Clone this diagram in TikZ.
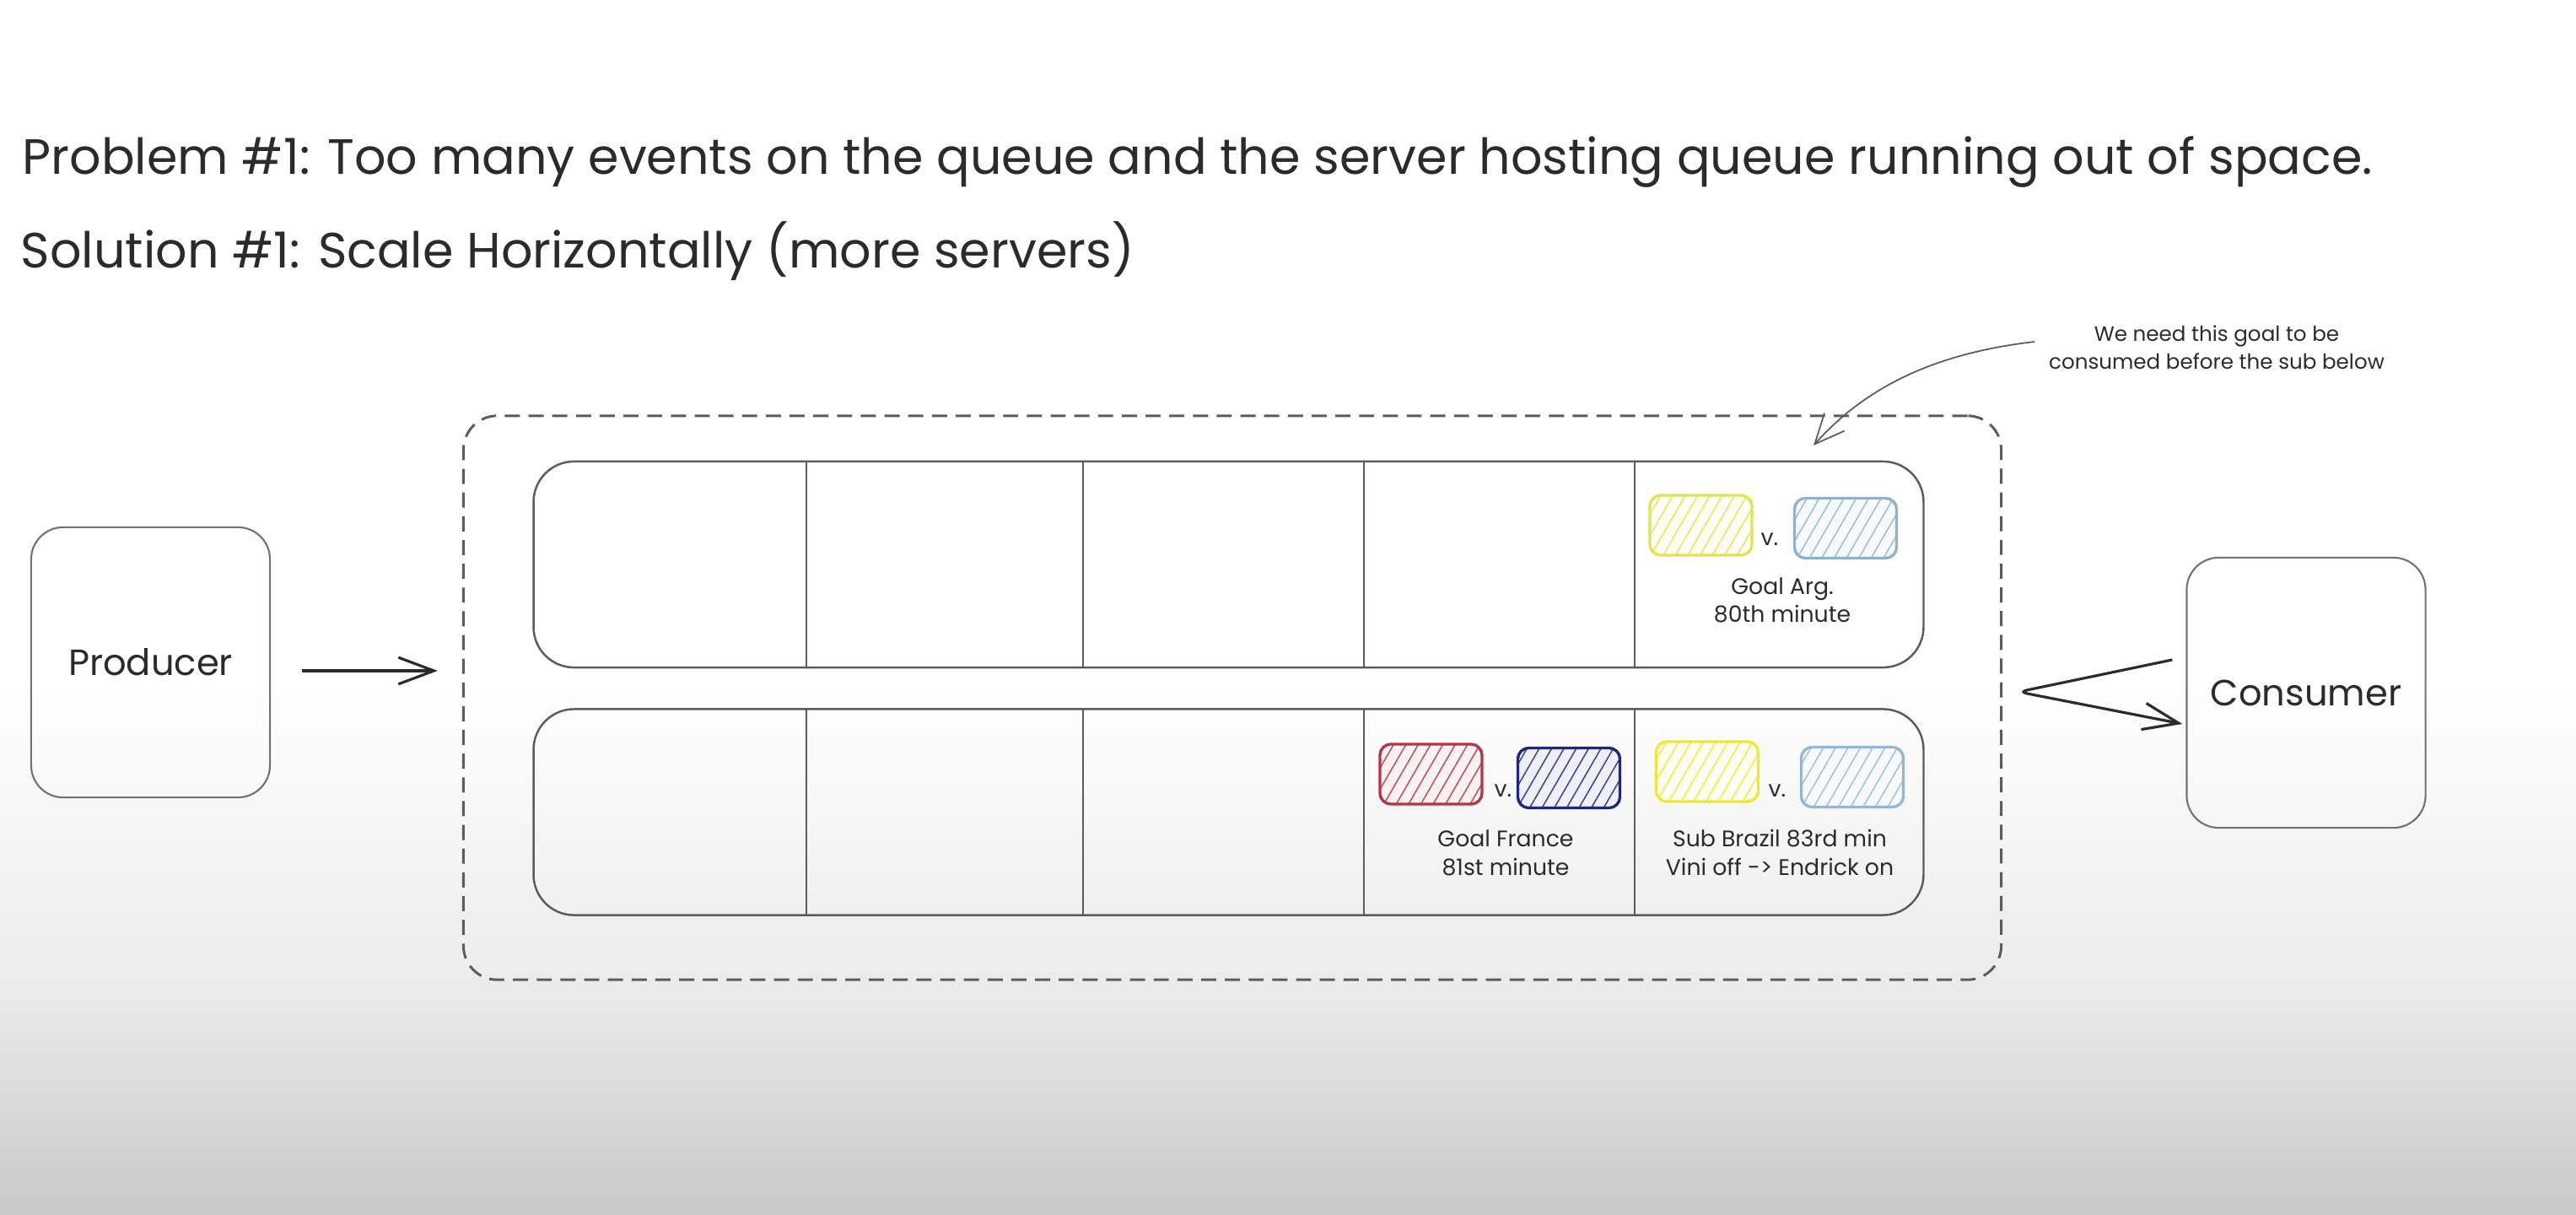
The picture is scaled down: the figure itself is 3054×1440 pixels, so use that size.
\documentclass[tikz,border=0pt]{standalone}
\usepackage{fontspec}
\setmainfont{Poppins}
\usetikzlibrary{arrows.meta,patterns.meta,calc}

\definecolor{ink}{HTML}{2B2B2B}
\definecolor{edge}{HTML}{5C5C5C}
\definecolor{boxedge}{HTML}{727272}
\definecolor{bgA}{HTML}{ECECEC}
\definecolor{bgB}{HTML}{C8C8C8}
\definecolor{argyellow}{HTML}{E0E352}
\definecolor{argblue}{HTML}{8FB2CE}
\definecolor{frred}{HTML}{B53445}
\definecolor{frnavy}{HTML}{1E2780}
\definecolor{bryellow}{HTML}{ECE83A}
\definecolor{brblue}{HTML}{93B7D6}

\begin{document}
\begin{tikzpicture}[x=0.01cm,y=-0.01cm,
  headline/.style={anchor=base west, inner sep=0, text=ink,
    font=\fontsize{16.7}{19}\selectfont},
  actor/.style={draw=boxedge, line width=0.6pt, rounded corners=0.38cm,
    minimum width=2.83cm, minimum height=3.2cm, inner sep=0, text=ink,
    font=\fontsize{12.3}{14}\selectfont},
  queue/.style={draw=edge, line width=0.7pt, rounded corners=0.48cm,
    minimum width=16.47cm, minimum height=2.44cm, inner sep=0},
  divider/.style={draw=edge, line width=0.6pt},
  cluster/.style={draw=edge, line width=0.85pt, dash pattern=on 5.1pt off 2.9pt,
    rounded corners=0.4cm, minimum width=18.22cm, minimum height=6.68cm, inner sep=0},
  team/.style={draw=#1, line width=0.95pt, rounded corners=0.13cm,
    minimum width=1.21cm, minimum height=0.71cm, inner sep=0,
    preaction={fill=#1!7},
    pattern={Lines[angle=60,distance=3.6pt,line width=0.45pt]}, pattern color=#1!85},
  vs/.style={anchor=base west, inner sep=0, text=ink, font=\fontsize{7.6}{9.4}\selectfont},
  event/.style={anchor=base, inner sep=0, align=center, text=ink,
    font=\fontsize{7.6}{9.4}\selectfont},
  remark/.style={anchor=base, inner sep=0, align=center, text=ink,
    font=\fontsize{7}{9.4}\selectfont},
  flow/.style={draw=ink, line width=0.9pt, -{Straight Barb[length=12pt,width=9pt,line width=0.9pt]}},
  pointer/.style={draw=edge, line width=0.5pt, -{Straight Barb[length=10pt,width=9pt,line width=0.5pt]}}
]
% page and the grey fade towards the bottom
\useasboundingbox (0,0) rectangle (3054,1440);
\fill[white] (0,0) rectangle (3054,1440);
\shade[top color=white, bottom color=bgA] (0,800) rectangle (3054,1162);
\shade[top color=bgA, bottom color=bgB] (0,1160) rectangle (3054,1440);

% headings
\node[headline] (problem) at (26,207)
  {Problem \#1: Too many events on the queue and the server hosting queue running out of space.};
\node[headline] (solution) at (24,318) {Solution \#1: Scale Horizontally (more servers)};

% producer and consumer
\node[actor] (producer) at (178.5,785) {Producer};
\node[actor] (consumer) at (2734,821) {Consumer};

% group of queue servers
\node[cluster] (cluster) at (1461,827) {};
\node[queue] (q1) at (1456.5,669) {};
\node[queue] (q2) at (1456.5,962.5) {};
\foreach \x in {956,1284,1617,1938} {
  \draw[divider] (\x,0 |- q1.north) -- (\x,0 |- q1.south);
  \draw[divider] (\x,0 |- q2.north) -- (\x,0 |- q2.south);
}

% event: goal Argentina (labels are placed by their last baseline)
\node[team=argyellow] (ga1) at (2016.5,622.5) {};
\node[vs] (gav) at (2087,647) {v.};
\node[team=argblue] (ga2) at (2188,626) {};
\node[event] (galabel) at (2113,738) {Goal Arg.\\80th minute};

% event: goal France
\node[team=frred] (gf1) at (1696.5,917.5) {};
\node[vs] (gfv) at (1771,945) {v.};
\node[team=frnavy] (gf2) at (1860,922) {};
\node[event] (gflabel) at (1785,1037) {Goal France\\81st minute};

% event: substitution Brazil
\node[team=bryellow] (sb1) at (2024,914.5) {};
\node[vs] (sbv) at (2096,945) {v.};
\node[team=brblue] (sb2) at (2196,921) {};
\node[event] (sblabel) at (2110,1037) {Sub Brazil 83rd min\\Vini off -> Endrick on};

% remark with its pointer
\node[remark] (note) at (2628,438) {We need this goal to be\\consumed before the sub below};
\coordinate (tail) at (2412,405);
\coordinate (head) at (2150,528);
\draw[pointer] (tail) .. controls (2300,418) and (2215,455) .. (head);

% producer feeds the cluster
\draw[flow] ($(producer.east)+(37,10)$) -- ($(cluster.west)+(-29,-32)$);

% consumer reads back from the cluster
\coordinate (turn) at ($(cluster.east)+(19,-7)$);
\draw[flow, rounded corners=3pt] ($(consumer.west)+(-16,-39)$) -- (turn) -- ($(consumer.west)+(-4,37)$);
\end{tikzpicture}
\end{document}
